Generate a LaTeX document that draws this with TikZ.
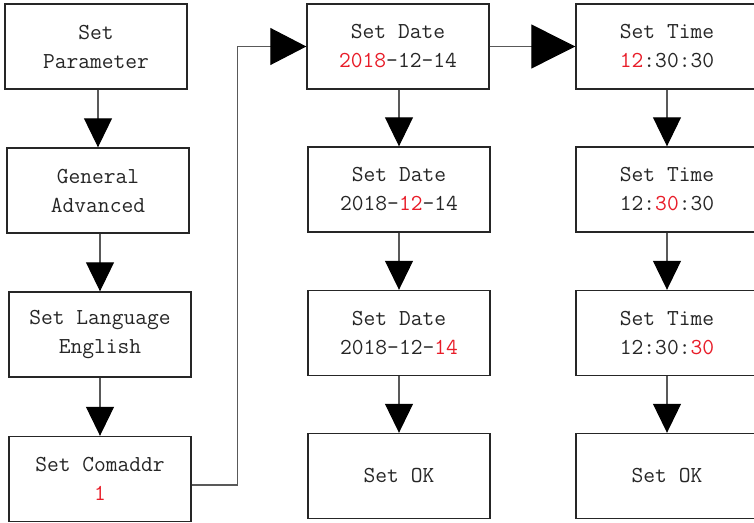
\documentclass[tikz,border=0pt]{standalone}
\usetikzlibrary{arrows.meta}
\definecolor{mark}{RGB}{232,28,40}
\newcommand{\hl}[1]{\textcolor{mark}{#1}}
\begin{document}
\begin{tikzpicture}[x=0.02cm,y=-0.02cm,
    box/.style={draw=black!85, line width=0.8pt, minimum width=3.64cm,
      minimum height=1.7cm, inner sep=0pt, align=center, text=black!85,
      font=\ttfamily\fontsize{13}{16.5}\selectfont},
    flow/.style={draw=black!65, line width=0.6pt,
      -{Triangle[length=0.58cm,width=0.56cm,color=black]}},
    bigflow/.style={flow, -{Triangle[length=0.72cm,width=0.74cm,color=black]}},
    hugeflow/.style={flow, -{Triangle[length=0.88cm,width=0.88cm,color=black]}}]
  \useasboundingbox (0,0) rectangle (754,523);

  % left column: parameter menu
  \node[box] (par)  at (96,46.5)  {Set\\Parameter};
  \node[box] (gen)  at (98,190.5) {General\\Advanced};
  \node[box] (lang) at (100,334.5) {Set Language\\English};
  \node[box] (addr) at (100,479)  {Set Comaddr\\\hl{1}};

  % middle column: date
  \node[box] (dy)  at (398,46.5) {Set Date\\\hl{2018}-12-14};
  \node[box] (dm)  at (399,189.5) {Set Date\\2018-\hl{12}-14};
  \node[box] (dd)  at (399,333)  {Set Date\\2018-12-\hl{14}};
  \node[box] (dok) at (399,476)  {Set OK};

  % right column: time
  \node[box] (th)  at (667,46.5) {Set Time\\\hl{12}:30:30};
  \node[box] (tm)  at (667,189.5) {Set Time\\12:\hl{30}:30};
  \node[box] (ts)  at (667,333)  {Set Time\\12:30:\hl{30}};
  \node[box] (tok) at (667,476)  {Set OK};

  % arrows down
  \draw[flow] (par.south -| gen.north) -- (gen.north);
  \draw[flow] (gen.south -| lang.north) -- (lang.north);
  \draw[flow] (lang.south) -- (addr.north);
  \draw[flow] (dy.south -| dm.north) -- (dm.north);
  \draw[flow] (dm.south) -- (dd.north);
  \draw[flow] (dd.south) -- (dok.north);
  \draw[flow] (th.south) -- (tm.north);
  \draw[flow] (tm.south) -- (ts.north);
  \draw[flow] (ts.south) -- (tok.north);

  % arrows across
  \draw[bigflow] ([yshift=-0.12cm]addr.east) -- ++(46,0) |- (dy.west);
  \draw[hugeflow] (dy.east) -- (th.west);
\end{tikzpicture}
\end{document}
